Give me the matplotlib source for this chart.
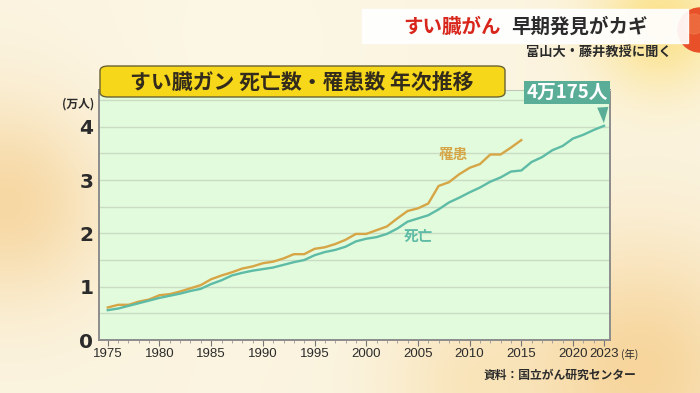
import numpy as np
import matplotlib
matplotlib.use("Agg")
import matplotlib.pyplot as plt
from matplotlib.patches import FancyBboxPatch, Rectangle, Circle

plt.rcParams["font.family"] = ["Noto Sans CJK JP", "DejaVu Sans"]

# ── Data (万人) ──────────────────────────────────────────────────────────────
years_death = list(range(1975, 2024))
deaths = [0.56, 0.59, 0.64, 0.69, 0.74, 0.79, 0.83, 0.87, 0.92, 0.96,
          1.05, 1.12, 1.21, 1.26, 1.30, 1.33, 1.36, 1.41, 1.46, 1.50,
          1.59, 1.65, 1.69, 1.75, 1.85, 1.90, 1.93, 1.99, 2.09, 2.22,
          2.28, 2.34, 2.45, 2.58, 2.67, 2.77, 2.86, 2.97, 3.05, 3.16,
          3.18, 3.34, 3.43, 3.56, 3.64, 3.78, 3.85, 3.94, 4.0175]

years_inc = list(range(1975, 2016))
incidence = [0.61, 0.66, 0.66, 0.72, 0.76, 0.84, 0.86, 0.91, 0.97, 1.03,
             1.14, 1.21, 1.27, 1.34, 1.38, 1.44, 1.47, 1.53, 1.61, 1.61,
             1.71, 1.74, 1.80, 1.88, 1.99, 1.99, 2.06, 2.13, 2.28, 2.42,
             2.47, 2.56, 2.89, 2.96, 3.11, 3.23, 3.30, 3.48, 3.48, 3.61,
             3.75]

xtick_years = [1975, 1980, 1985, 1990, 1995, 2000, 2005, 2010, 2015, 2020, 2023]
ytick_vals = [0, 1, 2, 3, 4]

TEAL = "#5dbba6"
GOLD = "#d6a545"
CALLOUT = "#5aae98"
DARK = "#2b2b2b"

W, H = 700, 393
fig = plt.figure(figsize=(W / 100, H / 100), dpi=100)

# ── Background: warm blurred glow ────────────────────────────────────────────
bg = fig.add_axes([0, 0, 1, 1], zorder=-10)
yy, xx = np.mgrid[0:H, 0:W]
img = np.ones((H, W, 3)) * np.array([251, 244, 224]) / 255.0


def blob(cx, cy, r, col, strength):
    global img
    w = strength * np.exp(-(((xx - cx) ** 2 + (yy - cy) ** 2) / (2 * r ** 2)))
    img = img * (1 - w[..., None]) + np.array(col)[None, None, :] / 255.0 * w[..., None]


blob(10, 200, 70, (246, 212, 155), 0.9)
blob(640, 370, 90, (246, 206, 140), 0.8)
blob(660, 25, 45, (252, 222, 120), 0.8)
blob(250, 40, 120, (253, 248, 232), 0.6)
blob(470, 380, 60, (248, 218, 160), 0.5)
bg.imshow(np.clip(img, 0, 1), extent=[0, W, H, 0], aspect="auto")
bg.set_xlim(0, W)
bg.set_ylim(H, 0)
bg.axis("off")

# orange ball top-right
bg.add_patch(Circle((700, 30), 22, color="#e8502a", zorder=2))
bg.add_patch(Circle((694, 24), 10, color="#f07a4a", alpha=0.6, zorder=3))

# top banner
bg.add_patch(Rectangle((362, 9), 326, 34, color="white", alpha=0.92, zorder=4))
bg.text(403, 27, "すい臓がん", color="#d8261c", fontsize=14, fontweight="bold",
        va="center", ha="left", zorder=5)
bg.text(511, 27, "早期発見がカギ", color=DARK, fontsize=14, fontweight="bold",
        va="center", ha="left", zorder=5)
bg.text(672, 52, "富山大・藤井教授に聞く", color=DARK, fontsize=9.5, fontweight="bold",
        va="center", ha="right", zorder=5)

# ── Chart ────────────────────────────────────────────────────────────────────
ax = fig.add_axes([99 / W, 1 - 340 / H, 511 / W, 250 / H])
ax.set_facecolor("#e2fbdc")
ax.plot(years_inc, incidence, color=GOLD, lw=1.7, zorder=3)
ax.plot(years_death, deaths, color=TEAL, lw=1.7, zorder=3)

ax.set_xlim(1974.15, 2023.58)
ax.set_ylim(0, 4.69)
grid_vals = np.arange(0, 4.6, 0.5)
ax.set_yticks(grid_vals)
ax.set_yticklabels([str(int(v)) if v in ytick_vals else "" for v in grid_vals],
                   fontsize=14.5, fontweight="bold", color=DARK, family=["DejaVu Sans"])
ax.yaxis.grid(True, color="#c9dcc4", lw=1.0)
ax.set_axisbelow(True)
ax.tick_params(axis="y", length=0, pad=4)

ax.set_xticks(xtick_years)
ax.set_xticklabels([str(y) for y in xtick_years], fontsize=9.5, color=DARK,
                   family=["Liberation Sans", "DejaVu Sans"])
ax.set_xticks(years_death, minor=True)
ax.tick_params(axis="x", which="major", length=4, color="#777777", pad=2)
ax.tick_params(axis="x", which="minor", length=2, color="#999999")

for side in ["left", "bottom", "right"]:
    ax.spines[side].set_color("#8c8c8c")
    ax.spines[side].set_linewidth(1.4)
ax.spines["top"].set_color("#c0c8bc")
ax.spines["top"].set_linewidth(0.8)

# series labels
ax.text(2008.4, 3.49, "罹患", color=GOLD, fontsize=10.5, fontweight="bold",
        ha="center", va="center")
ax.text(2005.0, 1.96, "死亡", color=TEAL, fontsize=10.5, fontweight="bold",
        ha="center", va="center")

# callout for the latest value
ax.annotate("4万175人", xy=(years_death[-1], deaths[-1]), xytext=(3, 17),
            textcoords="offset points", ha="right", va="bottom",
            color="white", fontsize=13.5, fontweight="bold",
            bbox=dict(boxstyle="square,pad=0.12", fc=CALLOUT, ec="none"),
            arrowprops=dict(arrowstyle="wedge,tail_width=0.6,shrink_factor=0.5",
                            fc=CALLOUT, ec="none", relpos=(0.93, 0.0)),
            annotation_clip=False, zorder=6)

# title box
fig.patches.append(FancyBboxPatch((100 / W, 1 - 97 / H), 405 / W, 31 / H,
                                  boxstyle="round,pad=0,rounding_size=0.012",
                                  transform=fig.transFigure, fc="#f6d71a",
                                  ec="#6b6231", lw=1.0, zorder=5))
fig.text(302 / W, 1 - 82 / H, "すい臓ガン 死亡数・罹患数 年次推移", color="#332b1c",
         fontsize=15, fontweight="bold", ha="center", va="center", zorder=6)

fig.text(78 / W, 1 - 104 / H, "(万人)", color=DARK, fontsize=8.5,
         fontweight="bold", ha="center", va="center")
fig.text(621 / W, 1 - 354 / H, "(年)", color=DARK, fontsize=7.5,
         ha="left", va="center")
fig.text(636 / W, 1 - 375 / H, "資料：国立がん研究センター", color=DARK, fontsize=8.5,
         fontweight="bold", ha="right", va="center")

fig.savefig("out.png", dpi=100)
